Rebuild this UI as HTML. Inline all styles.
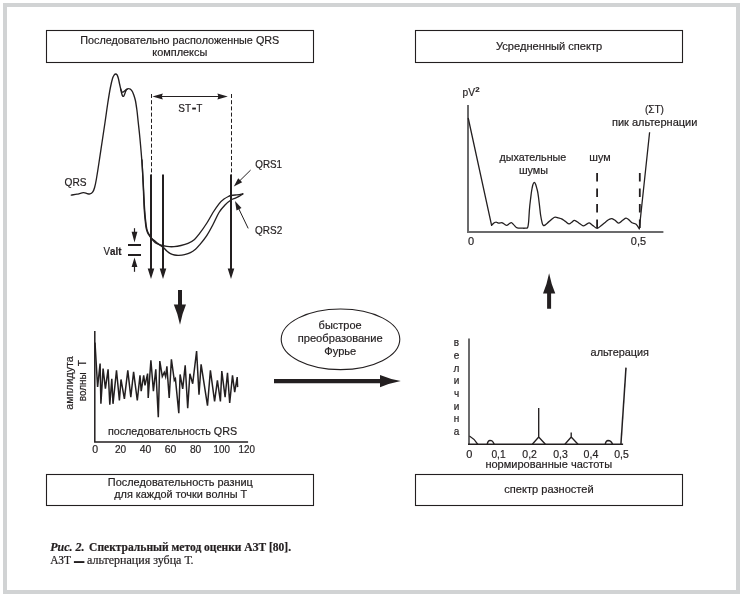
<!DOCTYPE html>
<html lang="ru">
<head>
<meta charset="utf-8">
<title>Рис. 2. Спектральный метод оценки АЗТ</title>
<style>
  html, body { margin: 0; padding: 0; background: #ffffff; }
  body { width: 743px; height: 596px; overflow: hidden; }
  svg { display: block; will-change: transform; }
  .t { font-family: "Liberation Sans", sans-serif; font-size: 11px; fill: #231f20; stroke: #231f20; stroke-width: 0.2px; }
  .s { font-family: "Liberation Serif", serif; font-size: 11.5px; fill: #231f20; stroke: #231f20; stroke-width: 0.2px; }
  .ln { stroke: #231f20; fill: none; }
  .bk { fill: #231f20; stroke: none; }
</style>
</head>
<body>
<svg width="743" height="596" viewBox="0 0 743 596">
  <rect x="0" y="0" width="743" height="596" fill="#ffffff"/>
  <!-- outer gray frame -->
  <rect x="5" y="5" width="733" height="587" fill="none" stroke="#d1d3d4" stroke-width="4"/>

  <!-- ============ title boxes ============ -->
  <g class="ln" stroke-width="1.1">
    <rect x="46.5" y="30.5" width="267" height="32"/>
    <rect x="415.5" y="30.5" width="267" height="32"/>
    <rect x="46.5" y="474.5" width="267" height="31"/>
    <rect x="415.5" y="474.5" width="267" height="31"/>
  </g>
  <text class="t" x="80.3" y="43.9" textLength="199" lengthAdjust="spacingAndGlyphs">Последовательно расположенные QRS</text>
  <text class="t" x="152.3" y="56.1" textLength="55" lengthAdjust="spacingAndGlyphs">комплексы</text>
  <text class="t" x="496" y="50.1" textLength="106.3" lengthAdjust="spacingAndGlyphs">Усредненный спектр</text>
  <text class="t" x="107.8" y="486.4" textLength="145.1" lengthAdjust="spacingAndGlyphs">Последовательность разниц</text>
  <text class="t" x="114.2" y="498.3" textLength="133" lengthAdjust="spacingAndGlyphs">для каждой точки волны Т</text>
  <text class="t" x="504.2" y="492.6" textLength="89.5" lengthAdjust="spacingAndGlyphs">спектр разностей</text>

  <!-- ============ top-left: QRS complexes ============ -->
  <g id="qrs">
    <!-- waveform, upper trace (QRS1) -->
    <path class="ln" stroke-width="1.35" stroke-linejoin="round" stroke-linecap="round"
      d="M71.3 195.1 C72.2 194.9 75.0 194.6 77.0 194.2 C79.0 193.8 81.8 192.8 83.5 192.7 C85.2 192.6 85.9 193.4 87.0 193.6 C88.1 193.8 89.1 194.1 90.0 193.9 C90.9 193.7 91.8 193.3 92.6 192.2 C93.4 191.1 94.0 189.7 94.6 187.5 C95.2 185.3 95.7 183.2 96.4 179.0 C97.1 174.8 98.1 168.6 99.0 162.5 C99.9 156.4 101.0 149.2 102.0 142.5 C103.0 135.8 104.0 129.1 105.0 122.5 C106.0 115.9 106.9 108.8 107.8 103.0 C108.7 97.2 109.5 92.1 110.3 88.0 C111.1 83.9 111.9 80.4 112.6 78.2 C113.3 76.0 113.8 75.5 114.3 74.8 C114.8 74.1 115.2 74.0 115.7 74.0 C116.2 74.0 116.6 74.2 117.1 74.9 C117.5 75.7 118.0 76.9 118.4 78.5 C118.8 80.1 119.3 82.8 119.7 84.5 C120.1 86.2 120.4 87.8 120.7 89.0 C121.0 90.2 121.4 91.2 121.8 91.7 C122.2 92.2 122.5 92.3 123.0 92.2 C123.5 92.1 123.9 91.5 124.5 91.0 C125.1 90.5 125.8 89.7 126.5 89.3 C127.2 88.9 128.0 88.5 128.7 88.6 C129.4 88.6 130.2 89.0 130.8 89.6 C131.5 90.2 132.1 91.0 132.6 92.0 C133.1 93.0 133.5 94.2 134.0 95.6 C134.5 97.0 134.9 98.1 135.4 100.5 C135.9 102.9 136.4 106.4 136.9 110.0 C137.4 113.6 137.7 117.3 138.2 122.0 C138.7 126.7 139.2 130.5 139.9 138.0 C140.6 145.5 141.7 158.3 142.3 167.0 C142.9 175.7 143.2 183.0 143.6 190.0 C144.0 197.0 144.2 203.1 144.6 209.0 C145.0 214.9 145.7 221.8 146.2 225.6 C146.7 229.3 147.0 229.9 147.6 231.5 C148.2 233.1 148.8 234.0 149.6 235.4 C150.4 236.8 151.6 238.6 152.5 239.8 C153.4 241.0 153.9 241.8 155.2 242.6 C156.4 243.4 158.1 244.3 160.0 244.9 C161.9 245.5 164.6 246.1 166.9 246.4 C169.2 246.7 171.7 246.8 174.0 246.6 C176.3 246.4 178.7 246.0 181.0 245.5 C183.3 245.0 185.8 244.4 188.0 243.4 C190.2 242.4 192.5 241.1 194.5 239.4 C196.5 237.7 197.7 235.9 199.8 233.2 C201.9 230.5 204.7 226.4 206.9 223.0 C209.1 219.6 211.0 215.7 213.0 212.5 C215.0 209.3 217.2 206.1 219.0 203.8 C220.8 201.6 222.4 200.2 224.0 199.0 C225.6 197.8 227.5 196.9 228.7 196.3 C229.9 195.7 229.9 195.7 231.0 195.5 C232.1 195.3 234.0 195.1 235.4 195.0 C236.8 194.9 238.2 194.9 239.4 194.7 C240.6 194.5 242.2 194.0 242.8 193.9"/>
    <!-- lower trace (QRS2) -->
    <path class="ln" stroke-width="1.35" stroke-linejoin="round" stroke-linecap="round"
      d="M120.7 89.0 C120.9 89.8 121.4 92.3 121.7 93.5 C122.0 94.7 122.4 95.8 122.8 96.2 C123.2 96.6 123.6 96.2 123.9 95.8 C124.2 95.3 124.6 94.4 124.9 93.5 C125.2 92.6 125.6 91.3 126.0 90.6 C126.4 89.9 127.0 89.4 127.2 89.2 M142.0 160.0 C142.2 164.2 142.8 176.8 143.2 185.0 C143.6 193.2 143.8 202.2 144.2 209.0 C144.6 215.8 145.3 222.0 145.8 225.8 C146.3 229.6 146.7 230.3 147.3 232.0 C147.9 233.7 148.7 234.7 149.6 236.0 C150.5 237.3 151.6 238.3 153.0 239.6 C154.4 240.9 156.3 242.3 158.0 243.6 C159.7 244.9 161.9 246.4 163.4 247.6 C164.9 248.8 165.6 250.0 166.8 251.0 C168.0 252.0 169.1 252.9 170.4 253.6 C171.7 254.3 173.1 254.7 174.5 255.0 C175.9 255.3 177.0 255.5 178.7 255.4 C180.4 255.3 182.6 255.1 184.5 254.6 C186.4 254.1 188.6 253.5 190.4 252.6 C192.2 251.7 193.9 250.5 195.5 249.2 C197.1 247.9 197.9 246.9 199.8 244.6 C201.7 242.3 204.7 238.7 206.9 235.3 C209.1 232.0 211.0 228.3 213.0 224.5 C215.0 220.7 217.0 215.8 219.0 212.5 C221.0 209.2 223.0 207.1 225.0 205.0 C227.0 202.9 229.3 201.1 231.0 200.0 C232.7 198.9 234.0 198.8 235.4 198.2 C236.8 197.6 238.2 196.9 239.4 196.2 C240.6 195.5 242.2 194.3 242.8 193.9"/>

    <!-- ST-T dashed guides -->
    <g class="ln" stroke-width="1" stroke-dasharray="4 2.2">
      <line x1="151.5" y1="94" x2="151.5" y2="175"/>
      <line x1="231.5" y1="94" x2="231.5" y2="175"/>
    </g>
    <!-- double arrow -->
    <line class="ln" stroke-width="1.2" x1="160" y1="96.5" x2="220" y2="96.5"/>
    <path class="bk" d="M152.4 96.5 L162.8 93.4 L161.8 96.5 L162.8 99.6 Z M227.8 96.5 L217.4 93.4 L218.4 96.5 L217.4 99.6 Z"/>
    <text class="t" x="178.3" y="111.7" textLength="12.8" lengthAdjust="spacingAndGlyphs">ST</text>
    <rect class="bk" x="192.2" y="107.6" width="3.7" height="1.9"/>
    <text class="t" x="196.6" y="111.7" textLength="5.8" lengthAdjust="spacingAndGlyphs">T</text>

    <!-- three vertical arrows -->
    <g class="ln" stroke-width="2">
      <line x1="151" y1="174.6" x2="151" y2="270"/>
      <line x1="163" y1="174.6" x2="163" y2="270"/>
      <line x1="231" y1="174.6" x2="231" y2="270"/>
    </g>
    <path class="bk" d="M147.7 268.4 L154.3 268.4 L151 279 Z M159.7 268.4 L166.3 268.4 L163 279 Z M227.7 268.4 L234.3 268.4 L231 279 Z"/>

    <!-- Valt marker -->
    <g class="ln" stroke-width="2">
      <line x1="128" y1="245" x2="141" y2="245"/>
      <line x1="128" y1="255" x2="141" y2="255"/>
    </g>
    <g class="ln" stroke-width="1.2">
      <line x1="134.5" y1="228.2" x2="134.5" y2="234"/>
      <line x1="134.5" y1="265" x2="134.5" y2="271.8"/>
    </g>
    <path class="bk" d="M131.6 231.8 L137.4 231.8 L134.5 242.4 Z M131.6 267 L137.4 267 L134.5 257.4 Z"/>
    <text class="t" x="103.5" y="254.7" textLength="18" lengthAdjust="spacingAndGlyphs">V<tspan font-weight="bold">alt</tspan></text>

    <!-- QRS labels and pointers -->
    <text class="t" x="64.5" y="185.6" textLength="22" lengthAdjust="spacingAndGlyphs">QRS</text>
    <text class="t" x="255.3" y="168.2" textLength="26.8" lengthAdjust="spacingAndGlyphs">QRS1</text>
    <text class="t" x="255.1" y="233.8" textLength="27.2" lengthAdjust="spacingAndGlyphs">QRS2</text>
    <line class="ln" stroke-width="1" x1="250.6" y1="170.1" x2="239.5" y2="181"/>
    <path class="bk" d="M233.8 186.6 L238.2 178.3 L242.2 182.3 Z"/>
    <line class="ln" stroke-width="1" x1="248.2" y1="228.4" x2="238.7" y2="208.6"/>
    <path class="bk" d="M235 200.9 L241.5 208.1 L236.5 210.5 Z"/>
  </g>

  <!-- ============ big block arrows ============ -->
  <path class="bk" d="M178 290 H182 V304.6 H186 Q182 314 180 324.8 Q177.9 314 173.8 304.6 H178 Z"/>
  <path class="bk" d="M547.1 308.8 H551.1 V293.6 H555.3 Q551.2 284 549.1 273.2 Q547 284 543 293.6 H547.1 Z"/>
  <path class="bk" d="M274 378.9 H380 V374.9 Q390 379 400.8 381.1 Q390 383.2 380 387.3 V383.2 H274 Z"/>

  <!-- ============ FFT ellipse ============ -->
  <ellipse class="ln" stroke-width="1.1" cx="340.5" cy="339.3" rx="59.3" ry="30.3"/>
  <text class="t" x="318.6" y="329.3" textLength="43" lengthAdjust="spacingAndGlyphs">быстрое</text>
  <text class="t" x="297.7" y="342.1" textLength="85" lengthAdjust="spacingAndGlyphs">преобразование</text>
  <text class="t" x="324.3" y="354.8" textLength="32" lengthAdjust="spacingAndGlyphs">Фурье</text>

  <!-- ============ bottom-left: sequence of differences ============ -->
  <g id="seq">
    <path class="ln" stroke-width="1.5" d="M94.8 331 V442 H248.1"/>
    <path class="ln" stroke-width="1.5" stroke-linejoin="miter" stroke-miterlimit="5"
      d="M95 342.6 L97.6 387 L100.1 363.6 L100.9 403.8 L103.1 368.6 L105.4 388.7 L108.1 369.4 L109.8 404.7 L111.8 378.7 L113 403.8
         L116.5 370.3 L119.4 400.5 L121 379.5 L124.4 398.8 L127.8 370.3 L130.8 397.1 L133.6 371.9 L137.3 400.5 L140 375.3 L141.2 391.2
         L143.7 375.3 L145 385.4 L147.6 373.6 L148.2 398 L150.9 360.2 L153.4 391.2 L155.8 369.4 L158.3 417.2 L159.8 361 L162.3 376.6
         L164.3 372.4 L165.6 376.6 L166.9 366.4 L169.2 398 L171.4 359.4 L174.3 380.4 L175.4 378.7 L178.8 413.1 L180.1 374.5 L182.7 388.8
         L185.2 365.3 L187.7 408.1 L189.9 373.7 L192.7 383.7 L196.6 351 L199 394.6 L201.1 364.4 L207.5 405.6 L210.4 370.3 L214.6 401.4
         L217.4 380.4 L220.4 401.4 L221.8 371.1 L225.1 397.2 L227.5 372.8 L229.7 403 L232.5 375.3 L234.7 392.1 L237.2 377 L237.6 387.1"/>
    <text class="t" x="107.9" y="435.2" textLength="129.3" lengthAdjust="spacingAndGlyphs">последовательность QRS</text>
    <g class="t" text-anchor="middle" style="font-size:10.5px">
      <text x="95.1" y="452.8">0</text>
      <text x="120.6" y="452.8" textLength="11.2" lengthAdjust="spacingAndGlyphs">20</text>
      <text x="145.6" y="452.8" textLength="11.6" lengthAdjust="spacingAndGlyphs">40</text>
      <text x="170.6" y="452.8" textLength="11.6" lengthAdjust="spacingAndGlyphs">60</text>
      <text x="195.6" y="452.8" textLength="11.4" lengthAdjust="spacingAndGlyphs">80</text>
      <text x="221.8" y="452.8" textLength="16.4" lengthAdjust="spacingAndGlyphs">100</text>
      <text x="246.8" y="452.8" textLength="16.4" lengthAdjust="spacingAndGlyphs">120</text>
    </g>
    <text class="t" transform="translate(72.5 409.8) rotate(-90)" textLength="53.6" lengthAdjust="spacingAndGlyphs">амплидута</text>
    <text class="t" transform="translate(85.8 401.2) rotate(-90)" textLength="28.9" lengthAdjust="spacingAndGlyphs">волны</text>
    <text class="t" transform="translate(85.8 366.3) rotate(-90)" textLength="6.2" lengthAdjust="spacingAndGlyphs">Т</text>
  </g>

  <!-- ============ top-right: averaged spectrum ============ -->
  <g id="avg">
    <path class="ln" style="stroke:#6b6b6c" stroke-width="2" d="M468 105 V232 H663.4"/>
    <path class="ln" stroke-width="1.3" stroke-linejoin="round"
      d="M468.2 118 L491.6 225.4 C491.9 225.0 492.9 223.8 493.6 223.2 C494.3 222.6 495.2 222.2 495.9 222.1 C496.5 222.0 497.0 222.5 497.5 222.7 C498.0 222.9 498.6 223.2 499.1 223.2 C499.7 223.2 500.2 222.9 500.8 222.8 C501.4 222.7 501.8 222.6 502.4 222.8 C503.0 223.1 503.9 223.9 504.6 224.3 C505.3 224.7 505.9 225.5 506.7 225.4 C507.5 225.3 508.4 224.3 509.2 223.8 C510.0 223.3 510.7 222.5 511.4 222.6 C512.1 222.7 512.8 223.8 513.6 224.6 C514.4 225.4 515.5 226.9 516.4 227.5 C517.3 228.1 518.1 228.0 519.0 228.1 C519.9 228.2 520.8 228.2 521.8 228.2 C522.8 228.2 524.0 228.3 525.0 228.2 C526.0 228.1 527.0 228.6 527.6 227.6 C528.2 226.6 528.3 224.9 528.6 222.0 C528.9 219.1 529.1 213.8 529.4 210.0 C529.7 206.2 530.1 202.7 530.5 199.5 C530.9 196.3 531.2 193.4 531.6 191.0 C532.0 188.6 532.4 186.4 532.8 185.0 C533.2 183.6 533.7 182.4 534.2 182.3 C534.7 182.2 535.2 183.3 535.6 184.3 C536.0 185.3 536.4 186.8 536.8 188.3 C537.2 189.8 537.5 190.7 537.9 193.1 C538.3 195.5 538.8 199.3 539.2 203.0 C539.7 206.7 540.1 211.6 540.6 215.0 C541.1 218.4 541.8 221.5 542.2 223.2 C542.6 224.9 542.8 224.8 543.2 225.2 C543.6 225.6 543.8 225.7 544.4 225.4 C545.0 225.1 546.1 224.1 547.0 223.4 C547.9 222.7 548.8 221.9 549.7 221.1 C550.6 220.3 551.6 219.2 552.5 218.6 C553.4 217.9 554.1 217.3 555.1 217.2 C556.1 217.1 557.2 217.6 558.3 217.9 C559.4 218.2 560.4 218.3 561.6 218.9 C562.8 219.5 564.1 220.6 565.4 221.4 C566.6 222.2 568.0 223.8 569.1 223.9 C570.2 224.0 570.9 222.8 571.8 222.2 C572.7 221.6 573.3 220.3 574.5 220.4 C575.7 220.5 577.4 222.1 578.8 223.0 C580.2 223.9 581.9 225.6 583.1 225.8 C584.4 226.0 585.3 224.9 586.3 224.4 C587.3 223.9 588.2 222.7 589.3 222.9 C590.4 223.1 591.7 224.7 593.0 225.6 C594.3 226.5 595.9 228.5 597.3 228.4 C598.7 228.3 600.2 226.3 601.6 225.2 C603.0 224.1 604.5 222.8 605.7 221.9 C606.9 221.0 608.0 220.0 609.0 219.5 C610.0 219.0 610.9 218.5 612.0 218.7 C613.1 218.9 614.3 219.9 615.4 220.6 C616.5 221.3 617.6 223.1 618.8 223.1 C620.0 223.1 621.4 221.1 622.6 220.3 C623.8 219.5 625.0 218.1 626.1 218.1 C627.2 218.1 628.3 219.4 629.3 220.2 C630.3 221.0 630.9 222.1 632.0 222.8 C633.1 223.5 634.9 223.3 636.1 224.3 C637.3 225.3 638.8 228.2 639.3 229.0 L649.6 132.2"/>
    <g class="ln" stroke-width="1.8" stroke-dasharray="8.5 7">
      <line x1="597.1" y1="173" x2="597.1" y2="228.5"/>
      <line x1="639.8" y1="173" x2="639.8" y2="228.5"/>
    </g>
    <text class="t" x="462.5" y="96.3" textLength="12.5" lengthAdjust="spacingAndGlyphs">pV</text>
    <text class="t" x="475.2" y="91.9" style="font-size:7.8px;font-weight:bold">2</text>
    <text class="t" x="499.5" y="161.4" textLength="66.8" lengthAdjust="spacingAndGlyphs">дыхательные</text>
    <text class="t" x="518.9" y="173.8" textLength="29.1" lengthAdjust="spacingAndGlyphs">шумы</text>
    <text class="t" x="589.3" y="161.4" textLength="21.3" lengthAdjust="spacingAndGlyphs">шум</text>
    <text class="t" x="644.9" y="112.8" textLength="19.1" lengthAdjust="spacingAndGlyphs">(ΣТ)</text>
    <text class="t" x="612" y="125.5" textLength="85.4" lengthAdjust="spacingAndGlyphs">пик альтернации</text>
    <text class="t" x="467.9" y="244.6">0</text>
    <text class="t" x="630.8" y="244.7" textLength="15.2" lengthAdjust="spacingAndGlyphs">0,5</text>
  </g>

  <!-- ============ bottom-right: spectrum of differences ============ -->
  <g id="diff">
    <line class="ln" style="stroke:#6b6b6c" stroke-width="2" x1="469" y1="338.5" x2="469" y2="444.9"/>
    <line class="ln" stroke-width="1.4" x1="468" y1="444.3" x2="623.1" y2="444.3"/>
    <g class="ln" stroke-width="1.35" stroke-linejoin="miter">
      <path d="M469.4 436 Q474.8 439 477.8 444.3"/>
      <path d="M487.2 444.3 C487.6 441.8 488.6 440.5 490 440.4 C491.8 440.4 493.3 441.8 494.2 444.3"/>
      <path d="M532.3 444.3 L538.7 437 L545.4 444.3 M538.7 437.4 V408"/>
      <path d="M564.9 444.3 L571.2 437 L578 444.3 M571.2 437.4 V432.4"/>
      <path d="M605.2 444.3 C605.6 441.9 606.6 440.6 608.1 440.5 C609.9 440.5 611.6 441.9 612.6 444.3"/>
      <path d="M620.9 444.6 L626 367.6" stroke-width="1.5"/>
    </g>
    <g class="t" text-anchor="middle" style="font-size:10px">
      <text x="456.5" y="345.8">в</text>
      <text x="456.5" y="358.7">е</text>
      <text x="456.5" y="371.6">л</text>
      <text x="456.5" y="384.3">и</text>
      <text x="456.5" y="397">ч</text>
      <text x="456.5" y="409.6">и</text>
      <text x="456.5" y="422.4">н</text>
      <text x="456.5" y="435.3">а</text>
    </g>
    <text class="t" x="590.6" y="356.1" textLength="58.4" lengthAdjust="spacingAndGlyphs">альтерация</text>
    <g class="t" text-anchor="middle">
      <text x="469.3" y="457.7">0</text>
      <text x="498.5" y="457.7" textLength="14.2" lengthAdjust="spacingAndGlyphs">0,1</text>
      <text x="529.6" y="457.7" textLength="14.6" lengthAdjust="spacingAndGlyphs">0,2</text>
      <text x="560.5" y="457.7" textLength="14.6" lengthAdjust="spacingAndGlyphs">0,3</text>
      <text x="591" y="457.7" textLength="14.8" lengthAdjust="spacingAndGlyphs">0,4</text>
      <text x="621.5" y="457.7" textLength="14.6" lengthAdjust="spacingAndGlyphs">0,5</text>
    </g>
    <text class="t" x="485.4" y="467.8" textLength="126.7" lengthAdjust="spacingAndGlyphs">нормированные частоты</text>
  </g>

  <!-- ============ caption ============ -->
  <text class="s" x="50.2" y="551" font-weight="bold" font-style="italic" textLength="34.2" lengthAdjust="spacingAndGlyphs">Рис. 2.</text>
  <text class="s" x="89.1" y="551" font-weight="bold" textLength="202" lengthAdjust="spacingAndGlyphs">Спектральный метод оценки АЗТ [80].</text>
  <text class="s" x="50.2" y="564.4" textLength="20.7" lengthAdjust="spacingAndGlyphs">АЗТ</text>
  <rect class="bk" x="73.9" y="561.1" width="10.5" height="1.9"/>
  <text class="s" x="87" y="564.4" textLength="106.6" lengthAdjust="spacingAndGlyphs">альтернация зубца Т.</text>
</svg>
</body>
</html>
